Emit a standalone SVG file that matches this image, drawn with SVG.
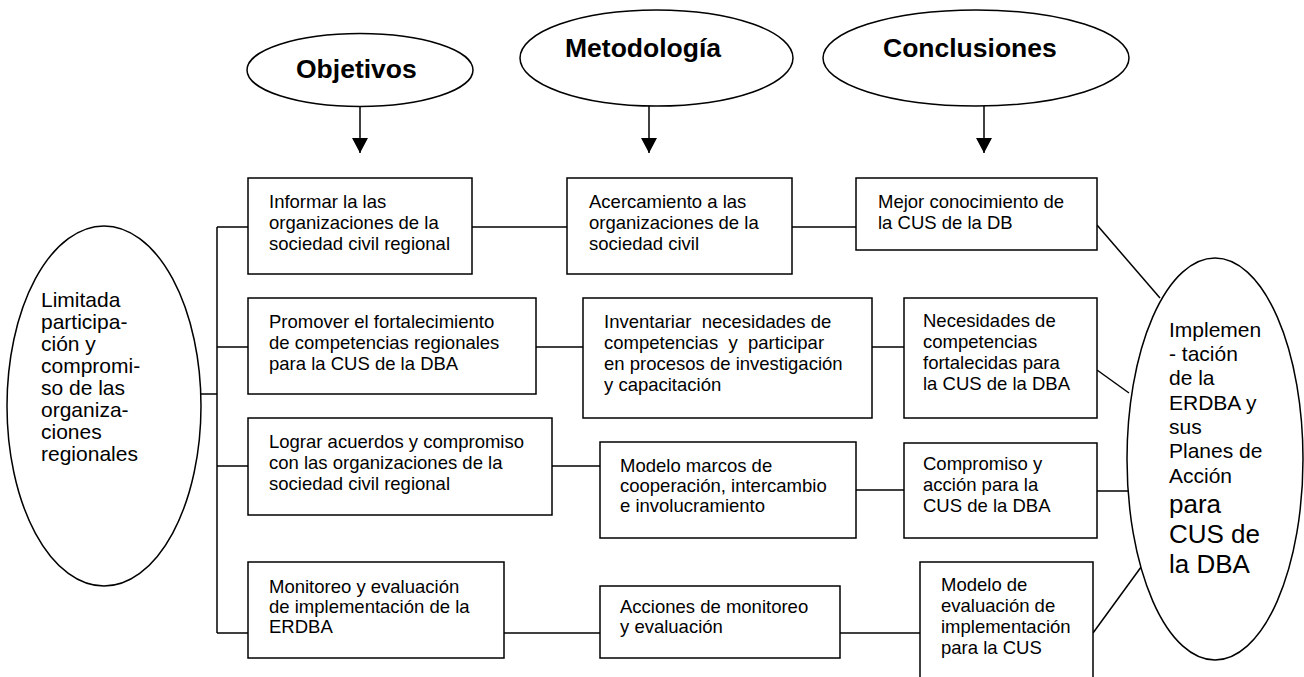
<svg xmlns="http://www.w3.org/2000/svg" width="1304" height="677" viewBox="0 0 1304 677">
<style>
.shape{fill:#fff;stroke:#000;stroke-width:1.5}
.ln{fill:none;stroke:#000;stroke-width:1.5}
.t{font-family:"Liberation Sans",Arial,sans-serif;font-size:18.5px;fill:#000}
.h{font-family:"Liberation Sans",Arial,sans-serif;font-size:26.5px;font-weight:bold;fill:#000}
.e{font-family:"Liberation Sans",Arial,sans-serif;font-size:21px;fill:#000}
.eb{font-family:"Liberation Sans",Arial,sans-serif;font-size:26px;fill:#000}
</style>
<defs>
<marker id="arr" markerUnits="userSpaceOnUse" markerWidth="16" markerHeight="16" viewBox="0 0 16 16" refX="15" refY="8" orient="auto">
<path d="M0,0 L15,8 L0,16 Z" fill="#000"/>
</marker>
</defs>
<rect width="1304" height="677" fill="#fff"/>
<g id="connectors">
<line class="ln" x1="360" y1="106" x2="360" y2="153" marker-end="url(#arr)"/>
<line class="ln" x1="649" y1="106" x2="649" y2="153" marker-end="url(#arr)"/>
<line class="ln" x1="984" y1="106" x2="984" y2="153" marker-end="url(#arr)"/>
<line class="ln" x1="201" y1="394" x2="217" y2="394"/>
<line class="ln" x1="217" y1="227" x2="217" y2="633"/>
<line class="ln" x1="217" y1="227" x2="248" y2="227"/>
<line class="ln" x1="217" y1="347" x2="248" y2="347"/>
<line class="ln" x1="217" y1="466" x2="248" y2="466"/>
<line class="ln" x1="217" y1="633" x2="248" y2="633"/>
<line class="ln" x1="472" y1="227" x2="567" y2="227"/>
<line class="ln" x1="792" y1="227" x2="856" y2="227"/>
<line class="ln" x1="536" y1="347" x2="583" y2="347"/>
<line class="ln" x1="872" y1="347" x2="904" y2="347"/>
<line class="ln" x1="552" y1="466" x2="600" y2="466"/>
<line class="ln" x1="856" y1="490" x2="904" y2="490"/>
<line class="ln" x1="504" y1="633" x2="600" y2="633"/>
<line class="ln" x1="840" y1="633" x2="920" y2="633"/>
<line class="ln" x1="1097" y1="225" x2="1160" y2="298"/>
<line class="ln" x1="1097" y1="370" x2="1129" y2="393"/>
<line class="ln" x1="1097" y1="491" x2="1129" y2="491"/>
<line class="ln" x1="1093" y1="633" x2="1144" y2="563"/>
</g>
<g id="objetivos">
<ellipse class="shape" cx="360" cy="70" rx="113" ry="36.5"/>
<text class="h" x="296" y="78">Objetivos</text>
</g>
<g id="metodologia">
<ellipse class="shape" cx="656.5" cy="58" rx="136.5" ry="48"/>
<text class="h" x="565" y="57">Metodología</text>
</g>
<g id="conclusiones">
<ellipse class="shape" cx="976" cy="58" rx="153" ry="48"/>
<text class="h" x="883" y="57">Conclusiones</text>
</g>
<g id="problema">
<ellipse class="shape" cx="104" cy="406" rx="97" ry="180"/>
<text class="e" x="41" y="307">Limitada</text>
<text class="e" x="41" y="329">participa-</text>
<text class="e" x="41" y="351">ción y</text>
<text class="e" x="41" y="373">compromi-</text>
<text class="e" x="41" y="395">so de las</text>
<text class="e" x="41" y="417">organiza-</text>
<text class="e" x="41" y="439">ciones</text>
<text class="e" x="41" y="461">regionales</text>
</g>
<g id="resultado">
<ellipse class="shape" cx="1215" cy="459" rx="88" ry="201"/>
<text class="e" x="1169" y="337">Implemen</text>
<text class="e" x="1169" y="361">- tación</text>
<text class="e" x="1169" y="385">de la</text>
<text class="e" x="1169" y="410">ERDBA y</text>
<text class="e" x="1169" y="434">sus</text>
<text class="e" x="1169" y="458">Planes de</text>
<text class="e" x="1169" y="483">Acción</text>
<text class="eb" x="1169" y="513">para</text>
<text class="eb" x="1169" y="543">CUS de</text>
<text class="eb" x="1169" y="573">la DBA</text>
</g>
<g id="a1">
<rect class="shape" x="248" y="178" width="224" height="96"/>
<text class="t" x="269" y="208">Informar la las</text>
<text class="t" x="269" y="229">organizaciones de la</text>
<text class="t" x="269" y="250">sociedad civil regional</text>
</g>
<g id="b1">
<rect class="shape" x="567" y="178" width="225" height="96"/>
<text class="t" x="589" y="208">Acercamiento a las</text>
<text class="t" x="589" y="229">organizaciones de la</text>
<text class="t" x="589" y="250">sociedad civil</text>
</g>
<g id="c1">
<rect class="shape" x="856" y="178" width="241" height="72"/>
<text class="t" x="878" y="208">Mejor conocimiento de</text>
<text class="t" x="878" y="229">la CUS de la DB</text>
</g>
<g id="a2">
<rect class="shape" x="248" y="298" width="288" height="96"/>
<text class="t" x="269" y="328">Promover el fortalecimiento</text>
<text class="t" x="269" y="349">de competencias regionales</text>
<text class="t" x="269" y="370">para la CUS de la DBA</text>
</g>
<g id="b2">
<rect class="shape" x="583" y="298" width="289" height="120"/>
<text class="t" x="604" y="328" xml:space="preserve">Inventariar  necesidades de</text>
<text class="t" x="604" y="349" xml:space="preserve">competencias  y  participar</text>
<text class="t" x="604" y="370">en procesos de investigación</text>
<text class="t" x="604" y="391">y capacitación</text>
</g>
<g id="c2">
<rect class="shape" x="904" y="298" width="193" height="120"/>
<text class="t" x="923" y="327">Necesidades de</text>
<text class="t" x="923" y="348">competencias</text>
<text class="t" x="923" y="369">fortalecidas para</text>
<text class="t" x="923" y="390">la CUS de la DBA</text>
</g>
<g id="a3">
<rect class="shape" x="248" y="418" width="304" height="97"/>
<text class="t" x="269" y="448">Lograr acuerdos y compromiso</text>
<text class="t" x="269" y="469">con las organizaciones de la</text>
<text class="t" x="269" y="490">sociedad civil regional</text>
</g>
<g id="b3">
<rect class="shape" x="600" y="442" width="256" height="96"/>
<text class="t" x="620" y="472">Modelo marcos de</text>
<text class="t" x="620" y="492">cooperación, intercambio</text>
<text class="t" x="620" y="512">e involucramiento</text>
</g>
<g id="c3">
<rect class="shape" x="904" y="443" width="193" height="95"/>
<text class="t" x="923" y="470">Compromiso y</text>
<text class="t" x="923" y="491">acción para la</text>
<text class="t" x="923" y="512">CUS de la DBA</text>
</g>
<g id="a4">
<rect class="shape" x="248" y="562" width="256" height="96"/>
<text class="t" x="269" y="593">Monitoreo y evaluación</text>
<text class="t" x="269" y="613">de implementación de la</text>
<text class="t" x="269" y="633">ERDBA</text>
</g>
<g id="b4">
<rect class="shape" x="600" y="586" width="240" height="72"/>
<text class="t" x="620" y="613">Acciones de monitoreo</text>
<text class="t" x="620" y="633">y evaluación</text>
</g>
<g id="c4">
<rect class="shape" x="920" y="562" width="173" height="125"/>
<text class="t" x="941" y="591">Modelo de</text>
<text class="t" x="941" y="612">evaluación de</text>
<text class="t" x="941" y="633">implementación</text>
<text class="t" x="941" y="654">para la CUS</text>
</g>
</svg>
